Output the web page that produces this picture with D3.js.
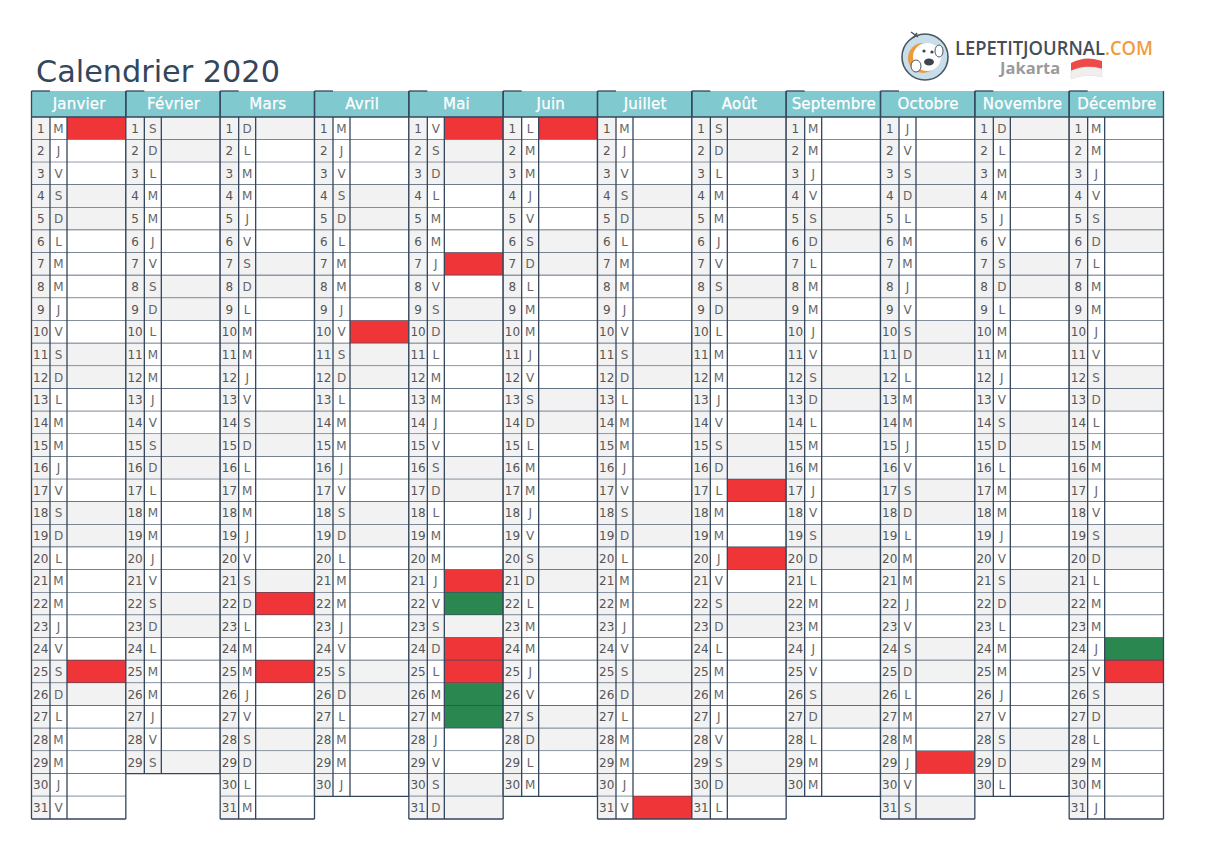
<!DOCTYPE html>
<html lang="fr">
<head>
    <meta charset="UTF-8">
    <title>Calendrier 2020</title>
    <script src="https://d3js.org/d3.v7.min.js"></script>
    <style>
        body { margin: 0; background: #fff; }
        svg { display: block; font-family: "DejaVu Sans", sans-serif; }
        .cell { font-family: "Liberation Sans Narrow", "DejaVu Sans", sans-serif; }
    </style>
</head>
<body>
    <svg id="cal" width="1228" height="868"></svg>
    <script>
        const monthNames = ["Janvier", "Février", "Mars", "Avril", "Mai", "Juin", "Juillet", "Août", "Septembre", "Octobre", "Novembre", "Décembre"];
        const dayLetters = [
            "MJVSDLMMJVSDLMMJVSDLMMJVSDLMMJV",
            "SDLMMJVSDLMMJVSDLMMJVSDLMMJVS",
            "DLMMJVSDLMMJVSDLMMJVSDLMMJVSDLM",
            "MJVSDLMMJVSDLMMJVSDLMMJVSDLMMJ",
            "VSDLMMJVSDLMMJVSDLMMJVSDLMMJVSD",
            "LMMJVSDLMMJVSDLMMJVSDLMMJVSDLM",
            "MJVSDLMMJVSDLMMJVSDLMMJVSDLMMJV",
            "SDLMMJVSDLMMJVSDLMMJVSDLMMJVSDL",
            "MMJVSDLMMJVSDLMMJVSDLMMJVSDLMM",
            "JVSDLMMJVSDLMMJVSDLMMJVSDLMMJVS",
            "DLMMJVSDLMMJVSDLMMJVSDLMMJVSDL",
            "MMJVSDLMMJVSDLMMJVSDLMMJVSDLMMJ"
        ];
        const redDays = [[1, 25], [], [22, 25], [10], [1, 7, 21, 24, 25], [1], [31], [17, 20], [], [29], [], [25]];
        const greenDays = [[], [], [], [], [22, 26, 27], [], [], [], [], [], [], [24]];
        const title = "Calendrier 2020";

        const ink = "#34465c";
        const teal = "#7fc9cf";
        const grey = "#f2f2f3";
        const red = "#ef3538";
        const green = "#2a874f";
        const lineW = 1.3;

        const svg = d3.select("#cal");

        const x = d3.scaleBand().domain(d3.range(12)).range([31.5, 1163.5]);
        const y = d3.scaleBand().domain(d3.range(1, 32)).range([117, 819]);
        const numW = 18.5, letW = 17;
        const headH = 26;

        svg.append("text")
            .attr("x", 36)
            .attr("y", 82)
            .attr("font-size", 30.3)
            .attr("fill", ink)
            .text(title);

        svg.append("rect")
            .attr("x", x(0))
            .attr("y", y(1) - headH)
            .attr("width", x.range()[1] - x(0))
            .attr("height", headH)
            .attr("fill", teal);

        const months = svg.selectAll(".month")
            .data(monthNames)
            .join("g")
            .attr("class", "month")
            .attr("transform", (d, i) => `translate(${x(i)},0)`);

        months.append("text")
            .attr("x", x.bandwidth() / 2 + 0.5)
            .attr("y", y(1) - 8)
            .attr("text-anchor", "middle")
            .attr("font-size", 15)
            .attr("letter-spacing", 0.2)
            .attr("stroke", "#fff")
            .attr("stroke-width", 0.25)
            .attr("fill", "#fff")
            .text(d => d);

        months.each(function (name, m) {
            const g = d3.select(this);
            const days = d3.range(1, dayLetters[m].length + 1).map(day => ({
                day,
                letter: dayLetters[m][day - 1]
            }));
            const w = x.bandwidth();

            const rows = g.selectAll(".day")
                .data(days)
                .join("g")
                .attr("class", "day")
                .attr("transform", d => `translate(0,${y(d.day)})`);

            rows.append("rect")
                .attr("width", numW)
                .attr("height", y.bandwidth())
                .attr("fill", grey);

            // reste de la ligne: rouge, vert, gris le week-end
            rows.append("rect")
                .attr("x", numW + letW)
                .attr("width", w - numW - letW)
                .attr("height", y.bandwidth())
                .attr("fill", d => {
                    if (redDays[m].includes(d.day)) return red;
                    if (greenDays[m].includes(d.day)) return green;
                    return d.letter === "S" || d.letter === "D" ? grey : "#fff";
                });

            rows.append("rect")
                .attr("x", numW)
                .attr("width", letW)
                .attr("height", y.bandwidth())
                .attr("fill", d => d.letter === "S" || d.letter === "D" ? grey : "#fff");

            rows.append("text")
                .attr("class", "cell")
                .attr("x", numW / 2)
                .attr("y", y.bandwidth() / 2 + 4.2)
                .attr("text-anchor", "middle")
                .attr("font-size", 12)
                .attr("fill", "#555")
                .text(d => d.day);

            rows.append("text")
                .attr("class", "cell")
                .attr("x", numW + letW / 2)
                .attr("y", y.bandwidth() / 2 + 4.2)
                .attr("text-anchor", "middle")
                .attr("font-size", 12)
                .attr("fill", "#666")
                .text(d => d.letter);

            rows.append("line")
                .attr("x1", 0).attr("x2", w)
                .attr("y1", y.bandwidth()).attr("y2", y.bandwidth())
                .attr("stroke", ink).attr("stroke-width", lineW);

            const bottom = y(days.length) + y.bandwidth();
            [0, numW, numW + letW].forEach(vx => {
                g.append("line")
                    .attr("x1", vx).attr("x2", vx)
                    .attr("y1", vx === 0 ? y(1) - headH : y(1))
                    .attr("y2", bottom)
                    .attr("stroke", ink).attr("stroke-width", lineW);
            });
            g.append("line")
                .attr("x1", w).attr("x2", w)
                .attr("y1", y(1) - headH).attr("y2", bottom)
                .attr("stroke", ink).attr("stroke-width", lineW);
            g.append("line")
                .attr("x1", 0).attr("x2", numW)
                .attr("y1", y(1) - headH).attr("y2", y(1) - headH)
                .attr("stroke", ink).attr("stroke-width", lineW);
            g.append("line")
                .attr("x1", 0).attr("x2", w)
                .attr("y1", y(1)).attr("y2", y(1))
                .attr("stroke", ink).attr("stroke-width", lineW);
        });

        // logo
        const logo = svg.append("g").attr("transform", "translate(925,57)");
        logo.append("circle").attr("r", 23).attr("fill", "#c9deeb").attr("stroke", "#4a5661").attr("stroke-width", 1.6);
        logo.append("circle").attr("cx", -2).attr("cy", 1).attr("r", 15).attr("fill", "#ee9a3c");
        logo.append("circle").attr("cx", 2).attr("cy", 0).attr("r", 14).attr("fill", "#fff");
        logo.append("ellipse").attr("cx", 4).attr("cy", 5).attr("rx", 5).attr("ry", 3.5).attr("fill", "#3d4650");
        logo.append("circle").attr("cx", -1).attr("cy", -6).attr("r", 1.6).attr("fill", "#3d4650");
        logo.append("circle").attr("cx", 7).attr("cy", -5).attr("r", 1.6).attr("fill", "#3d4650");
        logo.append("ellipse").attr("cx", -9).attr("cy", 9).attr("rx", 5).attr("ry", 6).attr("fill", "#fff").attr("stroke", "#4a5661");
        logo.append("ellipse").attr("cx", 14).attr("cy", -6).attr("rx", 4).attr("ry", 6).attr("fill", "#fff").attr("stroke", "#4a5661");
        logo.append("path").attr("d", "M-14,-25 L-7,-20 M-12,-19 L-8,-24").attr("stroke", "#4a5661").attr("stroke-width", 1.5);

        const brand = svg.append("text")
            .attr("x", 955).attr("y", 54.5)
            .attr("font-family", "'Open Sans', sans-serif")
            .attr("font-size", 19.5)
            .attr("font-weight", 600)
            .attr("textLength", 198)
            .attr("lengthAdjust", "spacingAndGlyphs");
        brand.append("tspan").attr("fill", "#444e58").text("LEPETITJOURNAL");
        brand.append("tspan").attr("fill", "#ef9c3f").text(".COM");

        svg.append("text")
            .attr("x", 1000).attr("y", 74)
            .attr("font-family", "'Open Sans', sans-serif")
            .attr("font-size", 16.5)
            .attr("font-weight", 700)
            .attr("fill", "#9a9a9c")
            .text("Jakarta");

        svg.append("path")
            .attr("d", "M1071,63 Q1086,55 1102,61 L1102,69 Q1086,64 1071,71 Z")
            .attr("fill", "#ee4a4a");
        svg.append("path")
            .attr("d", "M1071,71 Q1086,64 1102,69 L1102,77 Q1086,73 1071,79 Z")
            .attr("fill", "#f1eeee")
            .attr("stroke", "#dddddd")
            .attr("stroke-width", 0.5);
    </script>
</body>
</html>
